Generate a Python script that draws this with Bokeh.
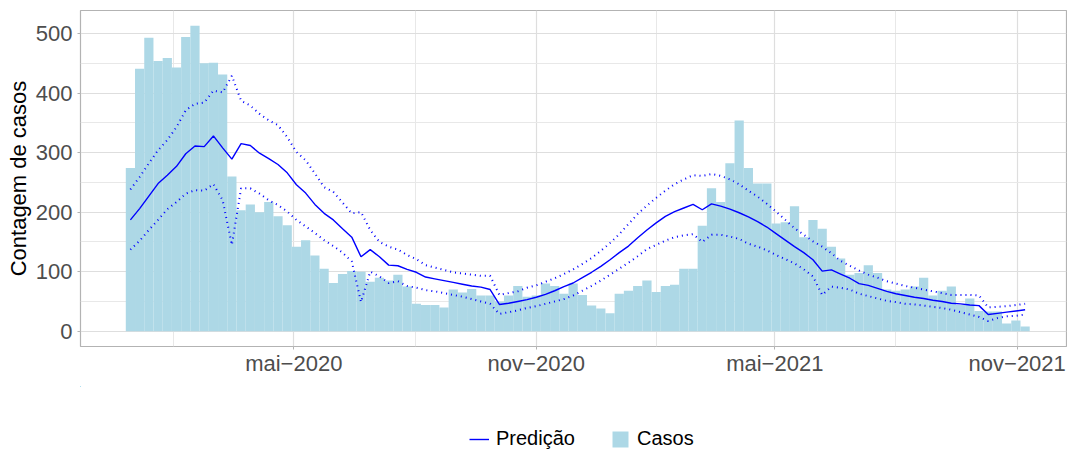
import pandas as pd
from bokeh.plotting import figure
from bokeh.layouts import column
from bokeh.models import FixedTicker, Range1d, Legend, LegendItem, ColumnDataSource
from bokeh.embed import file_html
from bokeh.resources import INLINE

# ---------------- data ----------------
semana_inicio = "2019-12-29"   # first epidemiological week (weekly bars)

casos = [274, 441, 493, 454, 459, 443, 494, 513, 450, 451,
         431, 260, 203, 213, 200, 217, 193, 178, 142, 153,
         127, 105, 81, 96, 101, 100, 83, 90, 85, 95,
         75, 46, 44, 44, 40, 70, 65, 71, 60, 60,
         50, 60, 76, 58, 60, 80, 76, 63, 80, 61,
         43, 38, 30, 63, 68, 76, 85, 66, 76, 78,
         105, 105, 177, 240, 217, 282, 354, 274, 248, 248,
         181, 183, 210, 158, 187, 172, 142, 122, 95, 98,
         111, 98, 70, 68, 70, 75, 90, 60, 68, 75,
         44, 55, 34, 33, 33, 13, 18, 8]

pred = [187, 206, 227, 248, 262, 277, 298, 311, 310, 328,
        308, 289, 315, 312, 299, 290, 280, 266, 246, 232,
        213, 198, 187, 172, 158, 125, 137, 125, 111, 110,
        104, 99,
        91, 88, 85, 82, 79, 76, 74, 70,
        45, 47, 50, 53, 57, 62, 68, 75, 81, 90,
        99, 109, 120, 132, 143, 157, 170, 182, 193, 201,
        207, 213, 204, 214, 210, 205, 199,
        192, 184, 175, 164, 153, 142, 132, 120,
        101, 103, 96, 89, 80, 77, 72, 67, 63, 60,
        57, 55, 52, 50, 47, 46, 44, 43,
        28, 30, 32, 34, 36]

pred_sup = [238, 259, 282, 304, 321, 343, 371, 382, 384, 404,
            401, 429, 387, 379, 365, 354, 346, 326, 301, 287,
            265, 242, 234, 216, 198, 200, 170, 150, 142, 137,
            128, 121,
            111, 107, 103, 99, 97, 95, 93, 93,
            61, 64, 67, 73, 77, 83, 89, 96, 104, 113,
            123, 135, 148, 163, 180, 197, 211, 224, 236, 247,
            255, 262, 261, 264, 261, 255, 247,
            236, 226, 214, 201, 187, 173, 162, 151,
            142, 131, 118, 110, 102, 95, 90, 84, 80, 76,
            73, 70, 67, 64, 61, 61, 61, 60,
            40, 41, 42, 44, 46]

pred_inf = [137, 152, 170, 187, 205, 217, 231, 237, 236, 247,
            220, 145, 240, 240, 231, 220, 212, 201, 187, 176,
            165, 153, 143, 132, 117, 49, 100, 92, 81, 84,
            76, 73,
            69, 67, 64, 61, 58, 54, 50, 46,
            29, 32, 35, 39, 42, 46, 50, 54, 60, 68,
            76, 85, 95, 105, 115, 126, 138, 145, 152, 158,
            161, 163, 150, 162, 162, 159, 155,
            147, 142, 136, 128, 121, 114, 104, 92,
            61, 75, 73, 70, 63, 59, 55, 51, 49, 46,
            45, 43, 41, 39, 36, 32, 28, 24,
            17, 22, 25, 26, 28]

tick_datas = ["2020-05-01", "2020-11-01", "2021-05-01", "2021-11-01"]
tick_rotulos = ["mai\u22122020", "nov\u22122020", "mai\u22122021", "nov\u22122021"]
minor_datas = ["2020-01-31", "2020-08-01", "2021-01-31", "2021-08-01"]

y_ticks = [0, 100, 200, 300, 400, 500]
y_minor = [50, 150, 250, 350, 450]

# ---------------- build ----------------
origem = pd.Timestamp("2019-11-01")
datas = pd.date_range(semana_inicio, periods=len(casos), freq="7D")
x = [float((d - origem).days) for d in datas]

src = ColumnDataSource(dict(x=x, casos=casos, pred=pred, sup=pred_sup, inf=pred_inf))

tick_x = [int((pd.Timestamp(d) - origem).days) for d in tick_datas]
minor_x = [int((pd.Timestamp(d) - origem).days) for d in minor_datas]

LEFT = 80
RIGHT = 1
W = 1067
frame_w = W - LEFT - RIGHT

# horizontal scale taken from the reference tick spacing
first_tick_px = 213.3
last_tick_px = 936.7
px_per_day = (last_tick_px - first_tick_px) / (tick_x[-1] - tick_x[0])
x_start = tick_x[0] - first_tick_px / px_per_day
x_end = x_start + frame_w / px_per_day

ymax = max(casos)
y_start = -0.05 * ymax
y_end = ymax * 1.05

FONT = "Liberation Sans"
AZUL = "#0000FF"
AZUL_CLARO = "#ADD8E6"

p = figure(width=W, height=386, output_backend="svg", toolbar_location=None,
           x_range=Range1d(x_start, x_end), y_range=Range1d(y_start, y_end),
           min_border_left=LEFT, min_border_right=RIGHT, min_border_top=10, min_border_bottom=40)

p.background_fill_color = "white"
p.border_fill_color = "white"
p.outline_line_color = "#b3b3b3"
p.outline_line_width = 1.2

bars = p.vbar(x="x", top="casos", width=7, bottom=0, source=src,
              fill_color=AZUL_CLARO, line_color=None)
l_sup = p.line("x", "sup", source=src, line_color=AZUL, line_width=2,
               line_dash="1 4")
l_inf = p.line("x", "inf", source=src, line_color=AZUL, line_width=2,
               line_dash="1 4")
l_pred = p.line("x", "pred", source=src, line_color=AZUL, line_width=1.4)

# axes
p.xaxis.ticker = FixedTicker(ticks=tick_x, minor_ticks=minor_x)
p.xaxis.major_label_overrides = {t: lab for t, lab in zip(tick_x, tick_rotulos)}
p.yaxis.ticker = FixedTicker(ticks=y_ticks, minor_ticks=y_minor)

for ax in (p.xaxis[0], p.yaxis[0]):
    ax.axis_line_color = None
    ax.major_tick_line_color = "#b3b3b3"
    ax.major_tick_out = 3
    ax.major_tick_in = 0
    ax.minor_tick_line_color = None
    ax.major_label_text_font = FONT
    ax.major_label_text_font_size = "22px"
    ax.major_label_text_color = "#4d4d4d"

p.xaxis.major_label_standoff = 0
p.yaxis.major_label_standoff = 4
p.yaxis.axis_label = "Contagem de casos"
p.yaxis.axis_label_text_font = FONT
p.yaxis.axis_label_text_font_size = "22px"
p.yaxis.axis_label_text_font_style = "normal"
p.yaxis.axis_label_text_color = "black"
p.yaxis.axis_label_standoff = 2

# grids
p.xgrid.grid_line_color = "#dedede"
p.xgrid.grid_line_width = 1.2
p.xgrid.minor_grid_line_color = "#e8e8e8"
p.xgrid.minor_grid_line_width = 1.0
p.ygrid.grid_line_color = "#dedede"
p.ygrid.grid_line_width = 1.2
p.ygrid.minor_grid_line_color = "#e8e8e8"
p.ygrid.minor_grid_line_width = 1.0

# ---------------- legend strip (separate figure under the chart) ----------------
# its ranges lie far from the data, so the proxy renderers stay out of view
pl = figure(width=W, height=64, output_backend="svg", toolbar_location=None,
            x_range=Range1d(2000, 3000), y_range=Range1d(-2000, -1000),
            x_axis_location=None, y_axis_location=None,
            min_border_left=0, min_border_right=0, min_border_top=0, min_border_bottom=0)
pl.grid.visible = False
pl.outline_line_color = None
pl.background_fill_color = "white"
pl.border_fill_color = "white"

k_pred = pl.line("x", "pred", source=src, line_color=AZUL, line_width=1.4)
k_casos = pl.vbar(x="x", top="casos", width=7, bottom=0, source=src,
                  fill_color=AZUL_CLARO, line_color=None)

legend = Legend(items=[LegendItem(label="Predição", renderers=[k_pred]),
                       LegendItem(label="Casos", renderers=[k_casos])],
                orientation="horizontal", location=(389, 0),
                glyph_width=20, glyph_height=20, label_standoff=7, spacing=35,
                padding=0, margin=0,
                label_text_font=FONT, label_text_font_size="20px",
                label_text_color="black",
                background_fill_alpha=0, border_line_color=None)
pl.add_layout(legend, "center")

layout = column(p, pl, spacing=0)
open("out.html", "w").write(file_html(layout, INLINE))
